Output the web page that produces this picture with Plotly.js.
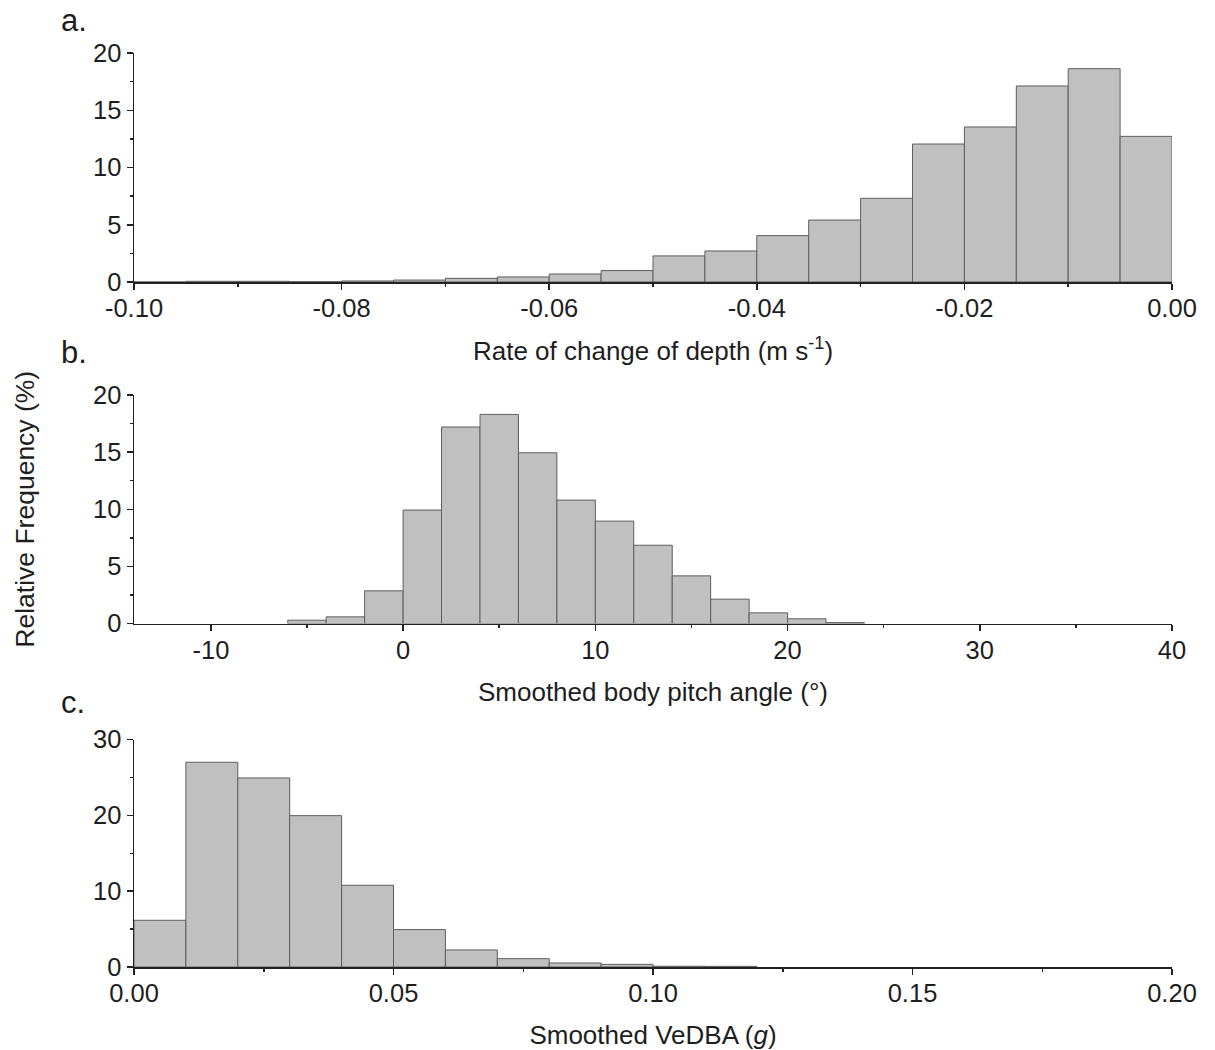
<!DOCTYPE html>
<html>
<head>
<meta charset="utf-8">
<script src="https://cdn.plot.ly/plotly-3.0.1.min.js"></script>
<style>html,body{margin:0;padding:0;background:#fff;}#chart{width:1215px;height:1050px;}</style>
</head>
<body>
<div id="chart"></div>
<script>
// Panel a: rate of change of depth (bin width 0.005)
const depthRateBins = [-0.0975, -0.0925, -0.0875, -0.0825, -0.0775, -0.0725, -0.0675, -0.0625, -0.0575, -0.0525,
                       -0.0475, -0.0425, -0.0375, -0.0325, -0.0275, -0.0225, -0.0175, -0.0125, -0.0075, -0.0025];
const depthRateFreq = [0, 0.06, 0.06, 0.02, 0.09, 0.17, 0.32, 0.44, 0.70, 1.0,
                       2.28, 2.71, 4.05, 5.41, 7.31, 12.05, 13.54, 17.12, 18.63, 12.72];
const depthRateTicks = [-0.10, -0.08, -0.06, -0.04, -0.02, 0.00];
const depthRateTickText = ['-0.10', '-0.08', '-0.06', '-0.04', '-0.02', '0.00'];

// Panel b: smoothed body pitch angle (bin width 2)
const pitchBins = [-5, -3, -1, 1, 3, 5, 7, 9, 11, 13, 15, 17, 19, 21, 23];
const pitchFreq = [0.29, 0.58, 2.86, 9.93, 17.2, 18.3, 14.94, 10.8, 8.96, 6.85, 4.17, 2.13, 0.93, 0.41, 0.08];
const pitchTicks = [-10, 0, 10, 20, 30, 40];
const pitchTickText = ['-10', '0', '10', '20', '30', '40'];

// Panel c: smoothed VeDBA (bin width 0.01)
const vedbaBins = [0.005, 0.015, 0.025, 0.035, 0.045, 0.055, 0.065, 0.075, 0.085, 0.095, 0.105, 0.115];
const vedbaFreq = [6.16, 27.0, 24.93, 19.96, 10.78, 4.93, 2.25, 1.1, 0.53, 0.35, 0.1, 0.08];

const W = 1215, H = 1050;
const px = v => v / W;
const py = v => 1 - v / H;

const barStyle = {color: '#c0c0c0', line: {color: '#5e5e5e', width: 1}};
const FONT = 'Liberation Sans, Arial, sans-serif';
const TXT = '#1e1e1e';
const TICK = 25.5;
const TITLE = 26;

const traces = [
  {type: 'bar', x: depthRateBins, y: depthRateFreq, width: 0.005, marker: barStyle, xaxis: 'x', yaxis: 'y', hoverinfo: 'x+y'},
  {type: 'bar', x: pitchBins, y: pitchFreq, width: 2, marker: barStyle, xaxis: 'x2', yaxis: 'y2', hoverinfo: 'x+y'},
  {type: 'bar', x: vedbaBins, y: vedbaFreq, width: 0.01, marker: barStyle, xaxis: 'x3', yaxis: 'y3', hoverinfo: 'x+y'}
];

const minorStyle = {ticks: 'outside', ticklen: 3, tickwidth: 1.5, tickcolor: '#222'};

function ax(extra) {
  return Object.assign({
    showline: true, linecolor: '#222', linewidth: 1.5, mirror: false,
    showgrid: false, zeroline: false, ticks: 'outside', ticklen: 6, tickwidth: 1.5, tickcolor: '#222',
    tickfont: {family: FONT, size: TICK, color: TXT}, automargin: false, fixedrange: true
  }, extra);
}

const layout = {
  width: W, height: H,
  margin: {l: 0, r: 0, t: 0, b: 0},
  paper_bgcolor: '#fff', plot_bgcolor: '#fff',
  showlegend: false, bargap: 0,
  font: {family: FONT, color: TXT},
  xaxis: ax({domain: [px(134), px(1172)], anchor: 'y', range: [-0.1, 0], ticklabelstandoff: -3,
    tickmode: 'array', tickvals: depthRateTicks, ticktext: depthRateTickText,
    minor: Object.assign({tickmode: 'linear', tick0: 0, dtick: 0.01}, minorStyle),
    title: {text: 'Rate of change of depth (m s<sup>-1</sup>)', font: {family: FONT, size: TITLE, color: TXT}, standoff: 20}}),
  yaxis: ax({domain: [py(282), py(53)], anchor: 'x', range: [0, 20], dtick: 5, tick0: 0,
    minor: Object.assign({dtick: 2.5, tick0: 0}, minorStyle)}),
  xaxis2: ax({domain: [px(134), px(1172)], anchor: 'y2', range: [-14, 40], ticklabelstandoff: -3,
    tickmode: 'array', tickvals: pitchTicks, ticktext: pitchTickText,
    minor: Object.assign({tickmode: 'linear', tick0: 5, dtick: 10}, minorStyle),
    title: {text: 'Smoothed body pitch angle (°)', font: {family: FONT, size: TITLE, color: TXT}, standoff: 20}}),
  yaxis2: ax({domain: [py(623.5), py(395)], anchor: 'x2', range: [0, 20], dtick: 5, tick0: 0,
    minor: Object.assign({dtick: 2.5, tick0: 0}, minorStyle),
    title: {text: 'Relative Frequency (%)', font: {family: FONT, size: 26.5, color: TXT}, standoff: 51}}),
  xaxis3: ax({domain: [px(134), px(1172)], anchor: 'y3', range: [0, 0.2], dtick: 0.05, tick0: 0, tickformat: '.2f', ticklabelstandoff: -3,
    minor: Object.assign({dtick: 0.025, tick0: 0}, minorStyle),
    title: {text: 'Smoothed VeDBA (<i>g</i>)', font: {family: FONT, size: TITLE, color: TXT}, standoff: 19}}),
  yaxis3: ax({domain: [py(967), py(739.5)], anchor: 'x3', range: [0, 30], dtick: 10, tick0: 0,
    minor: Object.assign({dtick: 5, tick0: 0}, minorStyle)}),
  annotations: [
    {text: 'a.', xref: 'paper', yref: 'paper', x: px(59), y: py(20), xanchor: 'left', yanchor: 'middle', showarrow: false, font: {family: FONT, size: 31, color: TXT}},
    {text: 'b.', xref: 'paper', yref: 'paper', x: px(59), y: py(352), xanchor: 'left', yanchor: 'middle', showarrow: false, font: {family: FONT, size: 31, color: TXT}},
    {text: 'c.', xref: 'paper', yref: 'paper', x: px(59), y: py(702), xanchor: 'left', yanchor: 'middle', showarrow: false, font: {family: FONT, size: 31, color: TXT}}
  ]
};

Plotly.newPlot('chart', traces, layout, {displayModeBar: false, staticPlot: true});
</script>
</body>
</html>
